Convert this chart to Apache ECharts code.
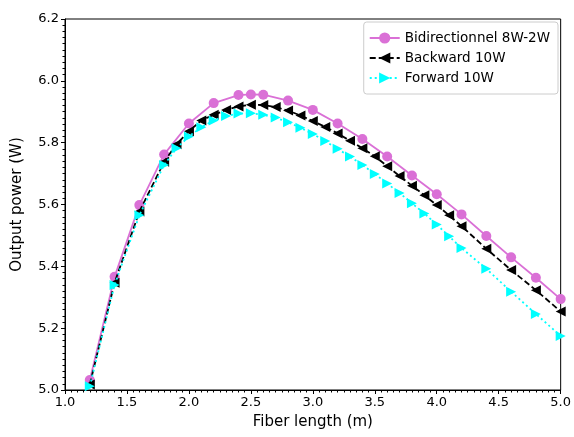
<!DOCTYPE html>
<html>
<head>
<meta charset="utf-8">
<script src="https://cdn.jsdelivr.net/npm/echarts@6/dist/echarts.min.js"></script>
<style>
  html, body { margin: 0; padding: 0; background: #ffffff; }
  #lineChart { width: 574px; height: 437px; }
</style>
</head>
<body>
<div id="lineChart"></div>
<script>
// 曲线数据
const legendNames = ['Bidirectionnel 8W-2W', 'Backward 10W', 'Forward 10W'];

const xBi = [1.2, 1.4, 1.6, 1.8, 2.0, 2.2, 2.4, 2.5, 2.6, 2.8, 3.0, 3.2, 3.4, 3.6, 3.8, 4.0, 4.2, 4.4, 4.6, 4.8, 5.0];
const yBi = [5.032, 5.366, 5.598, 5.762, 5.862, 5.928, 5.954, 5.956, 5.955, 5.936, 5.906, 5.862, 5.812, 5.755, 5.694, 5.633, 5.568, 5.498, 5.429, 5.363, 5.294];

const xTri = [1.2, 1.4, 1.6, 1.8, 1.9, 2.0, 2.1, 2.2, 2.3, 2.4, 2.5, 2.6, 2.7, 2.8, 2.9, 3.0, 3.1, 3.2, 3.3, 3.4, 3.5, 3.6, 3.7, 3.8, 3.9, 4.0, 4.1, 4.2, 4.4, 4.6, 4.8, 5.0];
const yBackward = [5.018, 5.347, 5.577, 5.738, 5.795, 5.837, 5.872, 5.890, 5.906, 5.917, 5.923, 5.922, 5.915, 5.904, 5.888, 5.870, 5.851, 5.830, 5.806, 5.782, 5.756, 5.724, 5.692, 5.661, 5.630, 5.598, 5.565, 5.530, 5.457, 5.388, 5.323, 5.254];
const yForward = [5.012, 5.340, 5.565, 5.728, 5.782, 5.820, 5.850, 5.872, 5.886, 5.894, 5.895, 5.890, 5.881, 5.866, 5.848, 5.828, 5.805, 5.780, 5.755, 5.728, 5.699, 5.668, 5.637, 5.604, 5.571, 5.535, 5.497, 5.459, 5.392, 5.318, 5.246, 5.175];

const zip = (xs, ys) => xs.map((x, i) => [x, ys[i]]);

const font = 'DejaVu Sans';

const myChart = echarts.init(document.querySelector('#lineChart'));

const option = {
  backgroundColor: '#ffffff',
  animation: false,
  textStyle: { fontFamily: font },
  grid: {
    left: 65,
    right: 9,
    top: 19,
    bottom: 47,
    show: true,
    borderColor: '#000000',
    borderWidth: 1,
  },
  legend: {
    orient: 'vertical',
    right: 16,
    top: 22,
    padding: [9, 8, 9, 5],
    itemGap: 6,
    itemWidth: 30,
    itemHeight: 14,
    borderColor: '#cccccc',
    borderWidth: 1,
    borderRadius: 3,
    textStyle: { fontSize: 13.5, color: '#000000', fontFamily: font },
    data: legendNames,
  },
  xAxis: {
    type: 'value',
    min: 1,
    max: 5,
    interval: 0.5,
    name: 'Fiber length (m)',
    nameLocation: 'middle',
    nameGap: 25,
    nameTextStyle: { fontSize: 15, color: '#000000', fontFamily: font },
    axisLine: { show: true, lineStyle: { color: '#000000', width: 1 } },
    axisTick: { show: true, length: 4, lineStyle: { color: '#000000' } },
    minorTick: { show: true, splitNumber: 10, length: 2.5, lineStyle: { color: '#000000' } },
    splitLine: { show: false },
    axisLabel: {
      fontSize: 13,
      color: '#000000',
      margin: 6,
      formatter: v => v.toFixed(1),
    },
  },
  yAxis: {
    type: 'value',
    min: 5.0,
    max: 6.2,
    interval: 0.2,
    name: 'Output power (W)',
    nameLocation: 'middle',
    nameGap: 40,
    nameTextStyle: { fontSize: 15, color: '#000000', fontFamily: font },
    axisLine: { show: true, lineStyle: { color: '#000000', width: 1 } },
    axisTick: { show: true, length: 4, lineStyle: { color: '#000000' } },
    minorTick: { show: true, splitNumber: 10, length: 2.5, lineStyle: { color: '#000000' } },
    splitLine: { show: false },
    axisLabel: {
      fontSize: 13,
      color: '#000000',
      margin: 6,
      formatter: v => v.toFixed(1),
    },
  },
  series: [
    {
      name: legendNames[0],
      type: 'line',
      data: zip(xBi, yBi),
      symbol: 'circle',
      symbolSize: 10,
      showAllSymbol: true,
      color: '#DA70D6',
      lineStyle: { color: '#DA70D6', width: 1.8, type: 'solid' },
      itemStyle: { color: '#DA70D6' },
      z: 3,
    },
    {
      name: legendNames[1],
      type: 'line',
      data: zip(xTri, yBackward),
      symbol: 'triangle',
      symbolRotate: 90,
      symbolSize: 10,
      showAllSymbol: true,
      color: '#000000',
      lineStyle: { color: '#000000', width: 1.8, type: [6, 3] },
      itemStyle: { color: '#000000' },
      z: 4,
    },
    {
      name: legendNames[2],
      type: 'line',
      data: zip(xTri, yForward),
      symbol: 'triangle',
      symbolRotate: -90,
      symbolSize: 10,
      showAllSymbol: true,
      color: '#00FFFF',
      lineStyle: { color: '#00FFFF', width: 1.8, type: [2, 3] },
      itemStyle: { color: '#00FFFF' },
      z: 5,
    },
  ],
};

myChart.setOption(option);
</script>
</body>
</html>
